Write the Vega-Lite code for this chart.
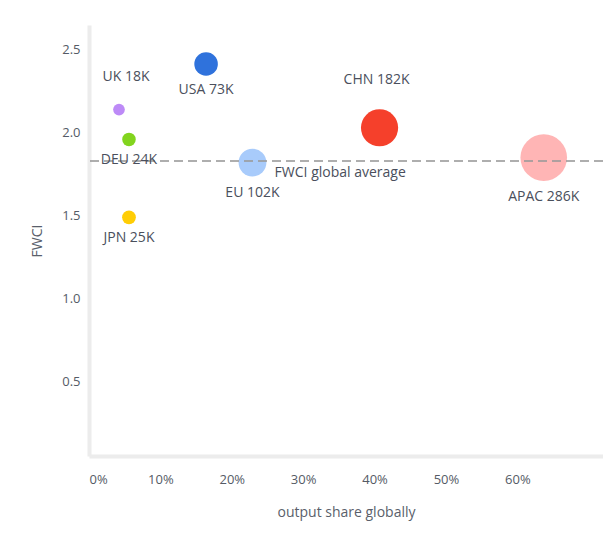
{
  "$schema": "https://vega.github.io/schema/vega-lite/v6.json",
  "width": 514,
  "height": 431,
  "autosize": "none",
  "padding": {"left": 89, "top": 25, "right": 0, "bottom": 81},
  "background": "white",
  "config": {
    "view": {"stroke": null},
    "font": "Open Sans",
    "axis": {
      "domainColor": "#ececec",
      "domainWidth": 4,
      "ticks": false,
      "grid": false,
      "labelFont": "Open Sans",
      "labelFontSize": 13,
      "labelColor": "#555b66",
      "titleFont": "Open Sans",
      "titleFontSize": 14,
      "titleFontWeight": "normal",
      "titleColor": "#5a5f6b"
    }
  },
  "datasets": {
    "regions": [
      {"country": "UK", "share": 0.042, "fwci": 2.14, "output": 18, "label": "UK 18K"},
      {"country": "DEU", "share": 0.056, "fwci": 1.96, "output": 24, "label": "DEU 24K"},
      {"country": "JPN", "share": 0.056, "fwci": 1.49, "output": 25, "label": "JPN 25K"},
      {"country": "USA", "share": 0.164, "fwci": 2.415, "output": 73, "label": "USA 73K"},
      {"country": "EU", "share": 0.229, "fwci": 1.82, "output": 102, "label": "EU 102K"},
      {"country": "CHN", "share": 0.407, "fwci": 2.03, "output": 182, "label": "CHN 182K"},
      {"country": "APAC", "share": 0.637, "fwci": 1.85, "output": 286, "label": "APAC 286K"}
    ],
    "average": [
      {"label": "FWCI global average", "share": 0.26, "fwci": 1.83}
    ]
  },
  "layer": [
    {
      "data": {"name": "regions"},
      "mark": {"type": "circle", "opacity": 1, "stroke": null},
      "encoding": {
        "x": {
          "field": "share", "type": "quantitative",
          "scale": {"domain": [0, 0.72], "nice": false, "zero": false},
          "axis": {"values": [0, 0.1, 0.2, 0.3, 0.4, 0.5, 0.6], "format": ".0%", "labelFlush": true, "labelPadding": 17, "title": "output share globally", "titlePadding": 19}
        },
        "y": {
          "field": "fwci", "type": "quantitative",
          "scale": {"domain": [0.05, 2.65], "nice": false, "zero": false},
          "axis": {"values": [0.5, 1, 1.5, 2, 2.5], "format": ".1f", "labelPadding": 9, "title": "FWCI", "titlePadding": 17}
        },
        "size": {"field": "output", "type": "quantitative", "scale": {"domain": [0, 300], "range": [0, 2280]}, "legend": null},
        "color": {
          "field": "country", "type": "nominal",
          "scale": {
            "domain": ["UK", "DEU", "JPN", "USA", "EU", "CHN", "APAC"],
            "range": ["#bd8af7", "#82d41e", "#ffcd05", "#2f72dc", "#a8cbfb", "#f5402b", "#ffb5b5"]
          },
          "legend": null
        }
      }
    },
    {
      "data": {"name": "average"},
      "mark": {"type": "rule", "color": "#9a9a9a", "opacity": 0.8, "strokeWidth": 2, "strokeDash": [9, 5]},
      "encoding": {"y": {"field": "fwci", "type": "quantitative"}}
    },
    {
      "data": {"name": "average"},
      "mark": {"type": "text", "align": "left", "baseline": "middle", "dy": 12, "fontSize": 14, "color": "#4a4f5c"},
      "encoding": {
        "x": {"field": "share", "type": "quantitative"},
        "y": {"field": "fwci", "type": "quantitative"},
        "text": {"field": "label"}
      }
    },
    {
      "data": {"name": "regions"},
      "transform": [{"filter": "datum.country === 'UK'"}],
      "mark": {"type": "text", "align": "center", "baseline": "middle", "dx": 7, "dy": -33, "fontSize": 14, "color": "#4a4f5c"},
      "encoding": {"x": {"field": "share", "type": "quantitative"}, "y": {"field": "fwci", "type": "quantitative"}, "text": {"field": "label"}}
    },
    {
      "data": {"name": "regions"},
      "transform": [{"filter": "datum.country === 'CHN'"}],
      "mark": {"type": "text", "align": "center", "baseline": "middle", "dx": -3, "dy": -48, "fontSize": 14, "color": "#4a4f5c"},
      "encoding": {"x": {"field": "share", "type": "quantitative"}, "y": {"field": "fwci", "type": "quantitative"}, "text": {"field": "label"}}
    },
    {
      "data": {"name": "regions"},
      "transform": [{"filter": "datum.country === 'USA'"}],
      "mark": {"type": "text", "align": "center", "baseline": "middle", "dy": 26, "fontSize": 14, "color": "#4a4f5c"},
      "encoding": {"x": {"field": "share", "type": "quantitative"}, "y": {"field": "fwci", "type": "quantitative"}, "text": {"field": "label"}}
    },
    {
      "data": {"name": "regions"},
      "transform": [{"filter": "datum.country === 'DEU' || datum.country === 'JPN'"}],
      "mark": {"type": "text", "align": "center", "baseline": "middle", "dy": 21, "fontSize": 14, "color": "#4a4f5c"},
      "encoding": {"x": {"field": "share", "type": "quantitative"}, "y": {"field": "fwci", "type": "quantitative"}, "text": {"field": "label"}}
    },
    {
      "data": {"name": "regions"},
      "transform": [{"filter": "datum.country === 'EU'"}],
      "mark": {"type": "text", "align": "center", "baseline": "middle", "dy": 30, "fontSize": 14, "color": "#4a4f5c"},
      "encoding": {"x": {"field": "share", "type": "quantitative"}, "y": {"field": "fwci", "type": "quantitative"}, "text": {"field": "label"}}
    },
    {
      "data": {"name": "regions"},
      "transform": [{"filter": "datum.country === 'APAC'"}],
      "mark": {"type": "text", "align": "center", "baseline": "middle", "dy": 39, "fontSize": 14, "color": "#4a4f5c"},
      "encoding": {"x": {"field": "share", "type": "quantitative"}, "y": {"field": "fwci", "type": "quantitative"}, "text": {"field": "label"}}
    }
  ]
}
